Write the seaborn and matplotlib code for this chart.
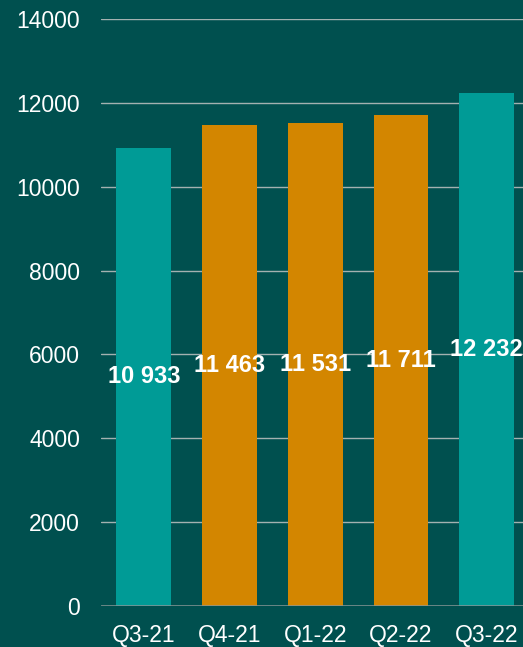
import matplotlib
matplotlib.use("Agg")
import matplotlib.pyplot as plt
import seaborn as sns
import pandas as pd

quarters = ["Q3-21", "Q4-21", "Q1-22", "Q2-22", "Q3-22"]
values = [10933, 11463, 11531, 11711, 12232]
bar_colors = ["#009B96", "#D38600", "#D38600", "#D38600", "#009B96"]
y_ticks = [0, 2000, 4000, 6000, 8000, 10000, 12000, 14000]

bg = "#00504F"
sns.set_theme(style="white")
plt.rcParams["font.family"] = ["Liberation Sans", "DejaVu Sans"]

df = pd.DataFrame({"quarter": quarters, "value": values})

fig = plt.figure(figsize=(5.23, 6.47), dpi=100, facecolor=bg)
ax = fig.add_axes([101 / 523, 41 / 647, 428.5 / 523, 587 / 647])
ax.set_facecolor(bg)

sns.barplot(data=df, x="quarter", y="value", hue="quarter",
            palette=dict(zip(quarters, bar_colors)), width=0.64,
            legend=False, ax=ax, saturation=1, linewidth=0)
for p in ax.patches:
    p.set_zorder(2)
    p.set_edgecolor("none")

ax.set_ylim(0, 14000)
ax.set_xlim(-0.5, 4.5)
ax.set_yticks(y_ticks)
ax.set_yticklabels([str(t) for t in y_ticks])
for t in y_ticks[1:]:
    ax.axhline(t, color="#A3B1B0", lw=1.0, zorder=1)
ax.axhline(0, color="#8A9796", lw=1.8, zorder=3)

for s in ax.spines.values():
    s.set_visible(False)
ax.tick_params(axis="both", length=0, colors="white", labelsize=16.5)
ax.tick_params(axis="y", pad=15)
ax.tick_params(axis="x", pad=13)
ax.set_xlabel("")
ax.set_ylabel("")

for i, v in enumerate(values):
    label = f"{v:,}".replace(",", " ")
    ax.text(i, v / 2, label, ha="center", va="center", color="white",
            fontsize=17, fontweight="bold", zorder=4)

fig.savefig("out.png", dpi=100, facecolor=bg)
